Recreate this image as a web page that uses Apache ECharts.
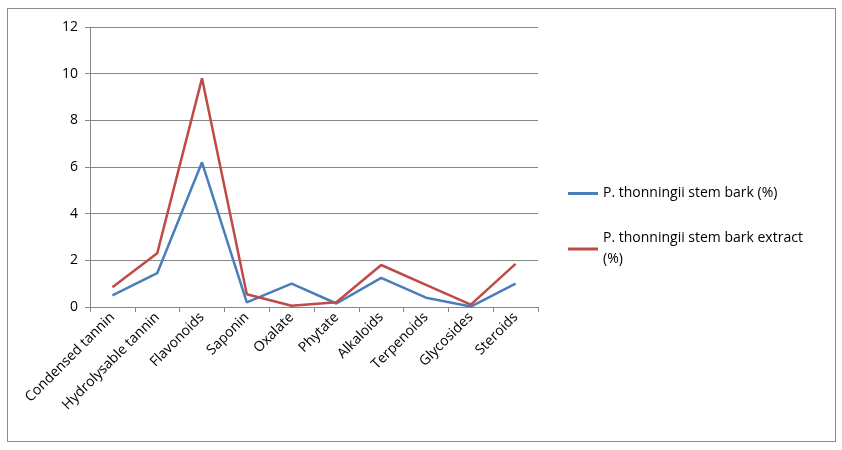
<!DOCTYPE html>
<html><head><meta charset="utf-8">
<script src="https://cdn.jsdelivr.net/npm/echarts@6/dist/echarts.min.js"></script>
<style>html,body{margin:0;padding:0;background:#fff}#c{width:842px;height:450px}
#b{position:absolute;left:7px;top:8px;width:827px;height:432px;border:1px solid #8c8c8c;pointer-events:none}</style>
</head><body><div id="c"></div><div id="b"></div>
<script>
const categories=["Condensed tannin","Hydrolysable tannin","Flavonoids","Saponin","Oxalate","Phytate","Alkaloids","Terpenoids","Glycosides","Steroids"];
const barkValues=[0.5,1.45,6.2,0.2,1.0,0.15,1.25,0.4,0.02,1.0];
const extractValues=[0.85,2.3,9.8,0.55,0.05,0.2,1.8,0.95,0.1,1.85];
const names=["P. thonningii stem bark (%)","P. thonningii stem bark extract (%)"];
const chart=echarts.init(document.getElementById('c'));
const font={fontFamily:'Open Sans, Noto Sans, sans-serif',fontSize:14,color:'#000'};
chart.setOption({
 animation:false,
 grid:{left:90,right:304,top:27,bottom:143},
 legend:{orient:'vertical',left:563,top:178,itemGap:24,icon:'rect',itemWidth:30,itemHeight:3,
  textStyle:{...font,lineHeight:21,width:240,overflow:'break'},
  formatter:n=>n===names[1]?'P. thonningii stem bark extract\n(%)':n,
  data:names},
 xAxis:{type:'category',data:categories,boundaryGap:true,
  axisLine:{lineStyle:{color:'#868686'}},axisTick:{show:true,lineStyle:{color:'#868686'}},
  axisLabel:{...font,rotate:45,interval:0,margin:8}},
 yAxis:{type:'value',min:0,max:12,interval:2,
  axisLine:{show:true,lineStyle:{color:'#868686'}},axisTick:{show:true,lineStyle:{color:'#868686'}},
  splitLine:{lineStyle:{color:'#868686'}},axisLabel:{...font,margin:12}},
 series:[
  {name:names[0],type:'line',data:barkValues,symbol:'none',lineStyle:{width:2.5,color:'#4a7ebb'},itemStyle:{color:'#4a7ebb'}},
  {name:names[1],type:'line',data:extractValues,symbol:'none',lineStyle:{width:2.5,color:'#be4b48'},itemStyle:{color:'#be4b48'}}
 ]
});
</script></body></html>
